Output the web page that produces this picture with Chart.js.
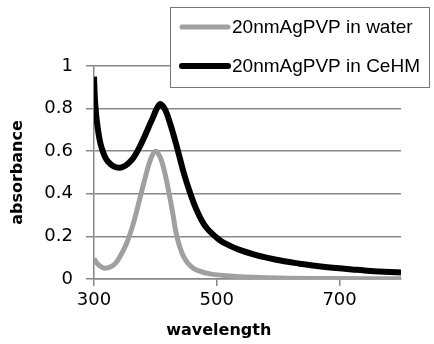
<!DOCTYPE html>
<html>
<head>
<meta charset="utf-8">
<script src="https://cdn.jsdelivr.net/npm/chart.js@4"></script>
<style>
  html, body { margin: 0; padding: 0; background: #fff; }
  #wrap { width: 434px; height: 344px; position: relative; }
</style>
</head>
<body>
<div id="wrap"><canvas id="chart"></canvas></div>
<script>
const seriesNames = ['20nmAgPVP in water', '20nmAgPVP in CeHM'];

const waterWavelength = [300, 308, 318, 330, 339, 353, 364, 374, 382, 392, 400, 408, 416, 427, 435, 446, 462, 489, 532, 600, 700, 800];
const waterAbs = [0.095, 0.065, 0.05, 0.062, 0.089, 0.167, 0.26, 0.37, 0.46, 0.56, 0.60, 0.57, 0.49, 0.33, 0.2, 0.105, 0.05, 0.024, 0.012, 0.005, 0.002, 0.001];

const cehmWavelength = [300, 302, 306, 312, 323, 342, 361, 377, 394, 407, 415, 424, 435, 446, 457, 467, 482, 504, 520, 536, 560, 581, 610, 635, 660, 689, 720, 750, 800];
const cehmAbs = [0.95, 0.82, 0.71, 0.62, 0.55, 0.522, 0.557, 0.636, 0.745, 0.82, 0.80, 0.73, 0.62, 0.50, 0.40, 0.325, 0.245, 0.184, 0.158, 0.138, 0.116, 0.100, 0.083, 0.072, 0.062, 0.053, 0.045, 0.038, 0.031];

const xTicks = [300, 500, 700];
const colors = ['#a0a0a0', '#000000'];

const toPoints = (xs, ys) => xs.map((x, i) => ({ x: x, y: ys[i] }));

// boxed legend, top right, overlapping the plot like the original
const boxLegend = {
    id: 'boxLegend',
    afterDraw(chart) {
        const ctx = chart.ctx;
        const box = { x: 170.5, y: 7.5, w: 259, h: 80 };
        ctx.save();
        ctx.fillStyle = '#fff';
        ctx.fillRect(box.x, box.y, box.w, box.h);
        ctx.strokeStyle = '#777';
        ctx.lineWidth = 1;
        ctx.strokeRect(box.x, box.y, box.w, box.h);
        ctx.font = '19px "Liberation Sans", Arial, sans-serif';
        ctx.textBaseline = 'middle';
        chart.data.datasets.forEach((ds, i) => {
            const y = 27 + i * 39;
            ctx.strokeStyle = ds.borderColor;
            ctx.lineWidth = ds.borderWidth;
            ctx.lineCap = 'round';
            ctx.beginPath();
            ctx.moveTo(182, y);
            ctx.lineTo(228, y);
            ctx.stroke();
            ctx.fillStyle = '#000';
            ctx.fillText(ds.label, 232, y + 1);
        });
        // x axis title, sits under the 500 tick rather than the plot centre
        const xs = chart.scales.x;
        ctx.font = 'bold 16px "DejaVu Sans", sans-serif';
        ctx.textAlign = 'center';
        ctx.fillText('wavelength', xs.getPixelForValue(500) + 2, 331);
        ctx.restore();
    }
};

new Chart(document.getElementById('chart'), {
    type: 'line',
    data: {
        datasets: [
            {
                label: seriesNames[0],
                data: toPoints(waterWavelength, waterAbs),
                borderColor: colors[0],
                borderWidth: 5,
                pointRadius: 0,
                tension: 0.35,
                fill: false
            },
            {
                label: seriesNames[1],
                data: toPoints(cehmWavelength, cehmAbs),
                borderColor: colors[1],
                borderWidth: 6,
                pointRadius: 0,
                tension: 0.35,
                fill: false
            }
        ]
    },
    options: {
        responsive: true,
        maintainAspectRatio: false,
        animation: false,
        layout: { padding: { top: 66, right: 33, left: 0, bottom: 0 } },
        plugins: {
            legend: { display: false },
            tooltip: { enabled: false }
        },
        scales: {
            x: {
                type: 'linear',
                min: 300,
                max: 800,
                afterBuildTicks: axis => { axis.ticks = xTicks.map(v => ({ value: v })); },
                afterFit: axis => { axis.height = 65; },
                grid: { drawOnChartArea: false, drawTicks: true, tickLength: 7, color: '#888', lineWidth: 1.5 },
                border: { color: '#888', width: 1.5 },
                ticks: { color: '#000', padding: 4, maxRotation: 0, font: { family: 'DejaVu Sans', size: 18 } }
            },
            y: {
                min: 0,
                max: 1,
                afterFit: axis => { axis.width = 94; },
                grid: { color: '#888', lineWidth: 1.5, tickLength: 8 },
                border: { color: '#888', width: 1.5 },
                ticks: {
                    stepSize: 0.2,
                    color: '#000',
                    padding: 13,
                    font: { family: 'DejaVu Sans', size: 18 },
                    callback: v => String(Math.round(v * 10) / 10)
                },
                title: {
                    display: true,
                    text: 'absorbance',
                    color: '#000',
                    padding: { top: 8, bottom: 0 },
                    font: { family: 'DejaVu Sans', size: 16, weight: 'bold' }
                }
            }
        }
    },
    plugins: [boxLegend]
});
</script>
</body>
</html>
